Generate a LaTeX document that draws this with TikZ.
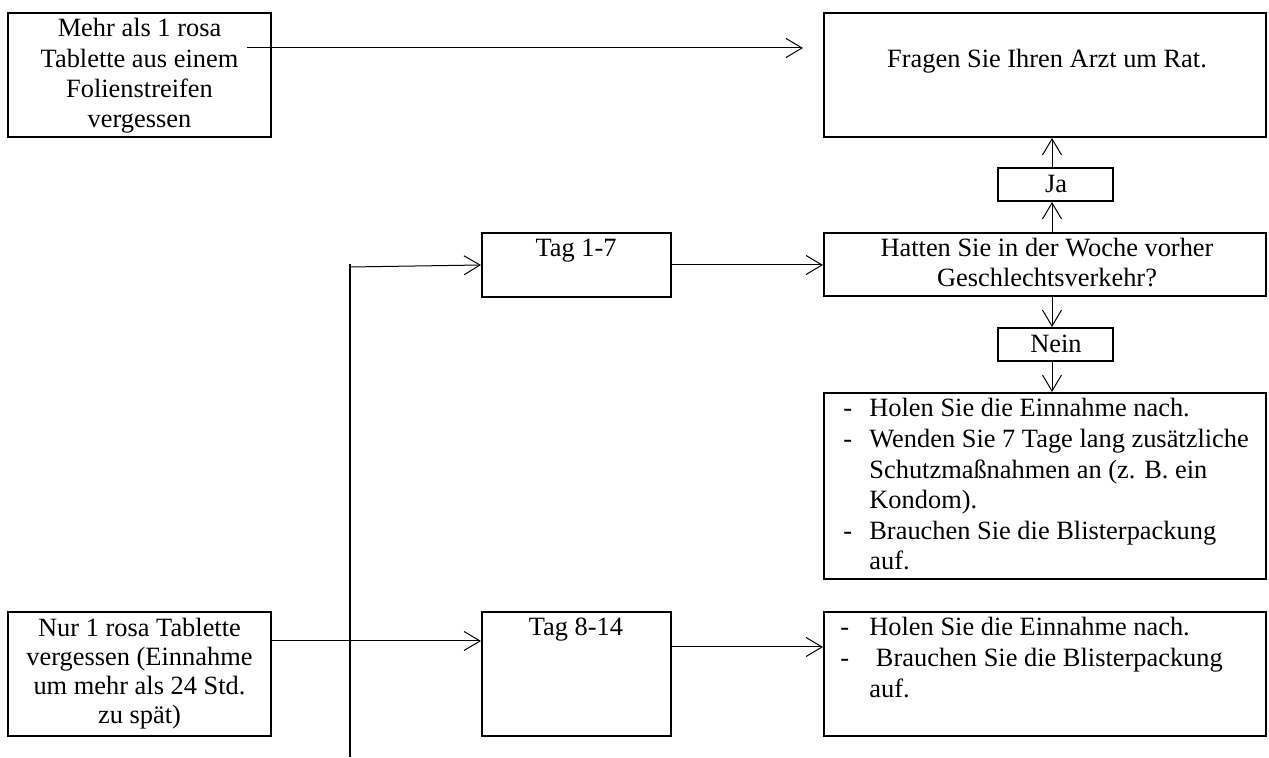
\documentclass[tikz,border=0pt]{standalone}
\usepackage{fontspec}
\setmainfont{Liberation Serif}
\usetikzlibrary{arrows.meta}
\begin{document}
\begin{tikzpicture}[x=0.5pt,y=-0.5pt,
  box/.style={draw, line width=1pt, inner sep=0pt, minimum width=#1},
  txt/.style={inner sep=0pt, anchor=base, align=center, font=\fontsize{13.2}{15.2}\selectfont},
  ltxt/.style={inner sep=0pt, anchor=base west, align=left, font=\fontsize{13.2}{15.3}\selectfont},
  arr/.style={line width=0.5pt, -{Straight Barb[length=8pt,width=9.5pt,line width=0.5pt]}},
  ln/.style={line width=0.5pt}]
\useasboundingbox (0,0) rectangle (1269,758);
% boxes
\node[box=131.5pt, minimum height=62pt] (a) at (139.5,75) {};
\node[box=221pt, minimum height=62pt] (f) at (1045,75) {};
\node[box=57.5pt, minimum height=16.5pt] (ja) at (1055.5,184.5) {};
\node[box=221pt, minimum height=31.5pt] (h) at (1045,264.5) {};
\node[box=57.5pt, minimum height=16.5pt] (nein) at (1055.5,344.5) {};
\node[box=221pt, minimum height=93pt] (l1) at (1045,486) {};
\node[box=94.5pt, minimum height=32pt] (t17) at (576.5,265) {};
\node[box=131.5pt, minimum height=62pt] (n) at (139.5,674) {};
\node[box=94.5pt, minimum height=62pt] (t814) at (576.5,674) {};
\node[box=221pt, minimum height=62pt] (l2) at (1045,674) {};
% texts (base anchor = last line of a multi-line node)
\node[txt] (ta) at (139.5,128) {Mehr als 1 rosa\\Tablette aus einem\\Folienstreifen\\vergessen};
\node[txt] (tf) at (1047,68) {Fragen Sie Ihren Arzt um Rat.};
\node[txt] (tja) at (1056,193) {Ja};
\node[txt] (th) at (1047,287) {Hatten Sie in der Woche vorher\\Geschlechtsverkehr?};
\node[txt] (tnein) at (1056,353) {Nein};
\node[txt] (tt17) at (576,257) {Tag 1-7};
\node[txt] (tt814) at (576,636) {Tag 8-14};
\node[txt, font=\fontsize{13.2}{14.4}\selectfont] (tn) at (139.5,723) {Nur 1 rosa Tablette\\vergessen (Einnahme\\um mehr als 24 Std.\\zu spät)};
\node[ltxt] (tl1) at (843,417) {\begin{tabular}[t]{@{}p{13pt}@{}l@{}}
-&Holen Sie die Einnahme nach.\\
-&Wenden Sie 7 Tage lang zusätzliche\\
&Schutzmaßnahmen an (z. B. ein\\
&Kondom).\\
-&Brauchen Sie die Blisterpackung\\
&auf.\end{tabular}};
\node[ltxt] (tl2) at (840,636) {\begin{tabular}[t]{@{}p{14.5pt}@{}l@{}}
-&Holen Sie die Einnahme nach.\\
-&\ Brauchen Sie die Blisterpackung\\
&auf.\end{tabular}};
% connector coordinates
\coordinate (s1) at (247,48);
\coordinate (e1) at (803,48);
\coordinate (vx) at (1052,0);
\coordinate (vt) at (350,264);
\coordinate (vb) at (350,757);
\coordinate (vs) at (350,267);
\coordinate (y641) at (0,641);
\coordinate (y647) at (0,647);
% connectors
\draw[arr] (s1) -- (e1);
\draw[arr] (h.north -| vx) -- (ja.south -| vx);
\draw[arr] (ja.north -| vx) -- (f.south -| vx);
\draw[arr] (h.south -| vx) -- (nein.north -| vx);
\draw[arr] (nein.south -| vx) -- (l1.north -| vx);
\draw[ln, line width=1pt] (vt) -- (vb);
\draw[arr] (vs) -- (t17.west);
\draw[arr] (t17.east) -- (h.west |- t17.east);
\draw[arr] (n.east |- y641) -- (t814.west |- y641);
\draw[arr] (t814.east |- y647) -- (l2.west |- y647);
\end{tikzpicture}
\end{document}
